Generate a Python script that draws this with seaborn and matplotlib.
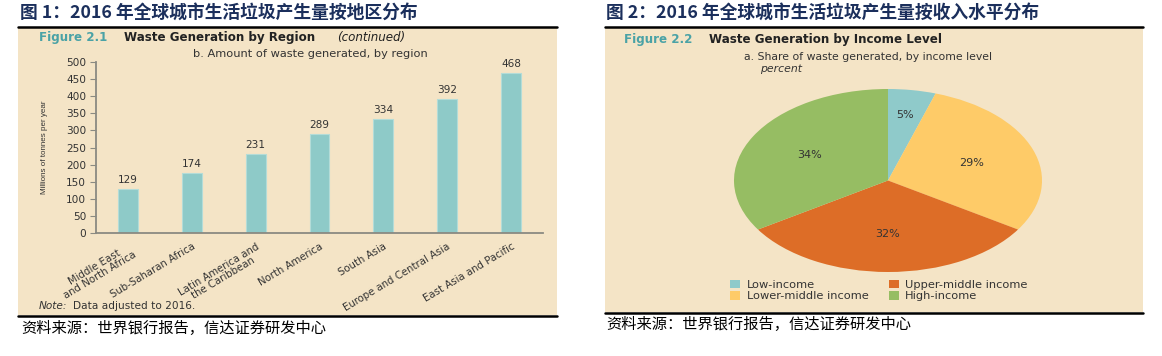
import numpy as np
import matplotlib
matplotlib.use("Agg")
import matplotlib.pyplot as plt
import seaborn as sns
from matplotlib.patches import Rectangle
from matplotlib.lines import Line2D

# data
regions = ["Middle East\nand North Africa", "Sub-Saharan Africa", "Latin America and\nthe Caribbean",
           "North America", "South Asia", "Europe and Central Asia", "East Asia and Pacific"]
waste_mt = [129, 174, 231, 289, 334, 392, 468]

income_levels = ["Low-income", "Lower-middle income", "Upper-middle income", "High-income"]
income_share = [5, 29, 32, 34]
income_colors = ["#8fcaca", "#fecb68", "#dd6d27", "#96bd63"]

title_left = "图 1：2016 年全球城市生活垃圾产生量按地区分布"
title_right = "图 2：2016 年全球城市生活垃圾产生量按收入水平分布"
source_txt = "资料来源：世界银行报告，信达证券研发中心"

sns.set_style("white")
plt.rcParams["font.family"] = ["DejaVu Sans", "Noto Sans CJK SC"]

W, H = 1162, 356
BG = "#f4e4c6"
NAVY = "#1b2f5c"
TEAL_TXT = "#4aa2a6"
GREY = "#333333"
CJK = ["Noto Sans CJK SC", "DejaVu Sans"]


def fx(px):
    return px / W


def fy(py):
    return 1 - py / H


fig = plt.figure(figsize=(W / 100, H / 100), dpi=100)

# beige panels + black rules
for x0, x1, y1 in [(18, 557, 315), (605, 1143, 312)]:
    fig.add_artist(Rectangle((fx(x0), fy(y1)), (x1 - x0) / W, (y1 - 27.5) / H,
                             transform=fig.transFigure, facecolor=BG, edgecolor="none", zorder=-2))
    for yy in (26.5, y1 + 0.5):
        fig.add_artist(Line2D([fx(x0), fx(x1)], [fy(yy), fy(yy)], color="black", lw=1.8,
                              transform=fig.transFigure, zorder=-1))

# chinese titles and sources
fig.text(fx(20), fy(13), title_left, family=CJK, weight="bold", fontsize=12.8, color=NAVY, va="center")
fig.text(fx(606), fy(13), title_right, family=CJK, weight="bold", fontsize=12.8, color=NAVY, va="center")
fig.text(fx(21), fy(328), source_txt, family=CJK, fontsize=11, color="black", va="center")
fig.text(fx(606), fy(324), source_txt, family=CJK, fontsize=11, color="black", va="center")

# panel headers
fig.text(fx(39), fy(38), "Figure 2.1", color=TEAL_TXT, weight="bold", fontsize=8.6, va="center")
fig.text(fx(124), fy(38), "Waste Generation by Region", color="#222222", weight="bold", fontsize=8.6, va="center")
fig.text(fx(337), fy(38), "(continued)", color="#222222", style="italic", fontsize=8.6, va="center")
fig.text(fx(193), fy(54), "b. Amount of waste generated, by region", color=GREY, fontsize=8.2, va="center")
fig.text(fx(39), fy(306), "Note:", color=GREY, style="italic", fontsize=7.6, va="center")
fig.text(fx(73), fy(306), "Data adjusted to 2016.", color=GREY, fontsize=7.6, va="center")

fig.text(fx(624), fy(39), "Figure 2.2", color=TEAL_TXT, weight="bold", fontsize=8.6, va="center")
fig.text(fx(709), fy(39), "Waste Generation by Income Level", color="#222222", weight="bold", fontsize=8.6, va="center")
fig.text(fx(744), fy(57), "a. Share of waste generated, by income level", color=GREY, fontsize=7.8, va="center")
fig.text(fx(760), fy(69.5), "percent", color=GREY, style="italic", fontsize=7.8, va="center")

# ---- bar chart ----
ax = fig.add_axes([fx(96), fy(233), (543 - 96) / W, (233 - 62) / H])
ax.set_facecolor("none")
sns.barplot(x=list(range(len(regions))), y=waste_mt, ax=ax, color="#8ecac8", width=0.31,
            edgecolor="#b3dcd8", linewidth=0.8, saturation=1, native_scale=True)
ax.set_xlim(-0.5, len(regions) - 0.5)
ax.set_ylim(0, 500)
ax.set_yticks(range(0, 501, 50))
ax.set_xticks(range(len(regions)))
ax.set_xticklabels(regions, rotation=31, ha="right", rotation_mode="anchor",
                   fontsize=7.3, color=GREY, linespacing=0.95)
for lab in ax.get_xticklabels():
    lab.set_multialignment("center")
ax.set_xticks(np.arange(-0.5, len(regions)), minor=True)
ax.tick_params(axis="x", which="major", length=0, pad=6)
ax.tick_params(axis="x", which="minor", length=3, color="#8a8a82", direction="out")
ax.tick_params(axis="y", length=4, color="#8a8a82", labelsize=7.6, labelcolor=GREY, pad=3, left=True)
for side in ("top", "right"):
    ax.spines[side].set_visible(False)
for side in ("left", "bottom"):
    ax.spines[side].set_color("#8a8a82")
    ax.spines[side].set_linewidth(1.3)
ax.set_xlabel("")
ax.set_ylabel("")
ax.bar_label(ax.containers[0], padding=3, fontsize=7.6, color=GREY)
fig.text(fx(45), fy(147), "Millions of tonnes per year", rotation=90, family="Liberation Sans",
         fontsize=5.8, color=GREY, ha="center", va="center")

# ---- pie chart ----
pax = fig.add_axes([fx(734), fy(272), (1042 - 734) / W, (272 - 89) / H])
wedges, _ = pax.pie(income_share, colors=income_colors, startangle=90, counterclock=False,
                    radius=1, wedgeprops=dict(linewidth=0))
pax.set_aspect("auto")
pax.set_xlim(-1, 1)
pax.set_ylim(-1, 1)
pax.axis("off")
for w, share in zip(wedges, income_share):
    ang = np.deg2rad((w.theta1 + w.theta2) / 2)
    r = 0.72 if share < 10 else 0.58
    pax.text(r * np.cos(ang), r * np.sin(ang), f"{share}%", ha="center", va="center",
             fontsize=8, color=GREY)

fig.legend(wedges, income_levels, ncol=2, loc="upper left", bbox_to_anchor=(fx(730), fy(280)),
           frameon=False, fontsize=8.2, handlelength=0.9, handleheight=0.75, handletextpad=0.55,
           columnspacing=1.8, labelspacing=0.1, borderpad=0, borderaxespad=0, labelcolor=GREY)

fig.savefig("out.png", dpi=100)
